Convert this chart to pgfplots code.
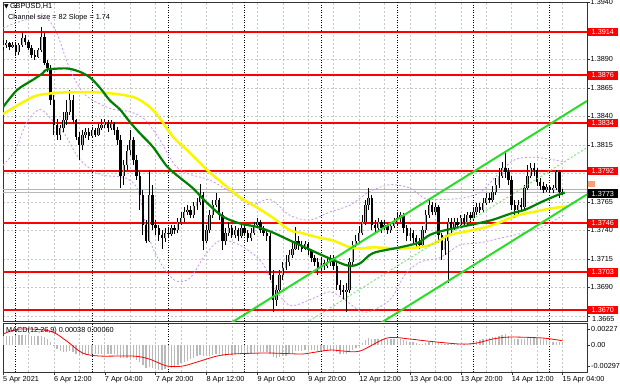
\documentclass[border=0pt]{standalone}
\usepackage{fontspec}
\setmainfont{Liberation Sans}
\newfontfamily\symfont{DejaVu Sans}
\usepackage{pgfplots}
\usepackage{pgfplotstable}
\pgfplotsset{compat=1.18}
\definecolor{mtred}{RGB}{255,0,0}
\definecolor{mtgreen}{RGB}{0,128,0}
\definecolor{mtyellow}{RGB}{250,245,0}
\definecolor{chan}{RGB}{40,220,40}
\definecolor{chanlight}{RGB}{120,225,120}
\definecolor{bband}{RGB}{200,150,235}
\definecolor{lvlorange}{RGB}{245,160,120}
\definecolor{histgray}{RGB}{185,185,185}
\definecolor{bullgray}{RGB}{170,170,170}

\pgfplotstableread{
i O H L C
0 1.3901 1.3907 1.3898 1.3903
1 1.3903 1.3907 1.3900 1.3904
2 1.3904 1.3905 1.3898 1.3901
3 1.3901 1.3905 1.3900 1.3903
4 1.3903 1.3905 1.3894 1.3896
5 1.3896 1.3904 1.3894 1.3903
6 1.3903 1.3913 1.3901 1.3909
7 1.3909 1.3911 1.3903 1.3905
8 1.3905 1.3907 1.3898 1.3900
9 1.3900 1.3903 1.3891 1.3894
10 1.3894 1.3898 1.3889 1.3892
11 1.3892 1.3900 1.3891 1.3898
12 1.3898 1.3918 1.3896 1.3910
13 1.3910 1.3913 1.3885 1.3887
14 1.3887 1.3889 1.3879 1.3882
15 1.3882 1.3885 1.3850 1.3854
16 1.3854 1.3859 1.3824 1.3832
17 1.3832 1.3838 1.3819 1.3824
18 1.3824 1.3832 1.3819 1.3830
19 1.3830 1.3844 1.3826 1.3837
20 1.3837 1.3854 1.3832 1.3844
21 1.3844 1.3863 1.3841 1.3854
22 1.3854 1.3859 1.3833 1.3837
23 1.3837 1.3838 1.3819 1.3822
24 1.3822 1.3826 1.3802 1.3815
25 1.3815 1.3828 1.3810 1.3824
26 1.3824 1.3830 1.3821 1.3826
27 1.3826 1.3830 1.3819 1.3823
28 1.3823 1.3831 1.3821 1.3828
29 1.3828 1.3830 1.3822 1.3824
30 1.3824 1.3833 1.3823 1.3830
31 1.3830 1.3838 1.3828 1.3832
32 1.3832 1.3838 1.3830 1.3835
33 1.3835 1.3837 1.3826 1.3830
34 1.3830 1.3837 1.3828 1.3833
35 1.3833 1.3835 1.3824 1.3828
36 1.3828 1.3831 1.3815 1.3819
37 1.3819 1.3824 1.3777 1.3788
38 1.3788 1.3802 1.3780 1.3797
39 1.3797 1.3815 1.3793 1.3810
40 1.3810 1.3828 1.3806 1.3819
41 1.3819 1.3822 1.3797 1.3802
42 1.3802 1.3806 1.3784 1.3788
43 1.3788 1.3793 1.3758 1.3771
44 1.3771 1.3775 1.3736 1.3745
45 1.3745 1.3749 1.3729 1.3731
46 1.3731 1.3793 1.3730 1.3771
47 1.3771 1.3780 1.3740 1.3745
48 1.3745 1.3749 1.3736 1.3742
49 1.3742 1.3745 1.3731 1.3736
50 1.3736 1.3740 1.3724 1.3733
51 1.3733 1.3742 1.3730 1.3738
52 1.3738 1.3742 1.3733 1.3737
53 1.3737 1.3745 1.3735 1.3742
54 1.3742 1.3745 1.3737 1.3740
55 1.3740 1.3751 1.3738 1.3747
56 1.3747 1.3756 1.3745 1.3751
57 1.3751 1.3760 1.3747 1.3756
58 1.3756 1.3762 1.3753 1.3758
59 1.3758 1.3761 1.3751 1.3753
60 1.3753 1.3765 1.3751 1.3761
61 1.3761 1.3768 1.3758 1.3765
62 1.3765 1.3781 1.3762 1.3771
63 1.3771 1.3774 1.3723 1.3731
64 1.3731 1.3745 1.3729 1.3740
65 1.3740 1.3758 1.3738 1.3753
66 1.3753 1.3767 1.3751 1.3762
67 1.3762 1.3773 1.3760 1.3767
68 1.3767 1.3768 1.3749 1.3753
69 1.3753 1.3756 1.3723 1.3731
70 1.3731 1.3742 1.3727 1.3738
71 1.3738 1.3747 1.3735 1.3742
72 1.3742 1.3745 1.3733 1.3736
73 1.3736 1.3744 1.3733 1.3740
74 1.3740 1.3742 1.3731 1.3735
75 1.3735 1.3745 1.3733 1.3742
76 1.3742 1.3745 1.3735 1.3738
77 1.3738 1.3740 1.3730 1.3733
78 1.3733 1.3742 1.3731 1.3738
79 1.3738 1.3747 1.3736 1.3745
80 1.3745 1.3751 1.3742 1.3747
81 1.3747 1.3749 1.3738 1.3740
82 1.3740 1.3744 1.3735 1.3738
83 1.3738 1.3740 1.3731 1.3735
84 1.3735 1.3738 1.3696 1.3701
85 1.3701 1.3705 1.3668 1.3679
86 1.3679 1.3692 1.3674 1.3688
87 1.3688 1.3705 1.3686 1.3701
88 1.3701 1.3712 1.3696 1.3707
89 1.3707 1.3718 1.3705 1.3712
90 1.3712 1.3723 1.3709 1.3718
91 1.3718 1.3731 1.3716 1.3724
92 1.3724 1.3743 1.3723 1.3731
93 1.3731 1.3735 1.3723 1.3727
94 1.3727 1.3731 1.3721 1.3724
95 1.3724 1.3731 1.3723 1.3728
96 1.3728 1.3730 1.3718 1.3723
97 1.3723 1.3724 1.3712 1.3716
98 1.3716 1.3718 1.3709 1.3712
99 1.3712 1.3716 1.3701 1.3707
100 1.3707 1.3716 1.3705 1.3711
101 1.3711 1.3714 1.3705 1.3709
102 1.3709 1.3716 1.3707 1.3712
103 1.3712 1.3718 1.3709 1.3716
104 1.3716 1.3718 1.3705 1.3709
105 1.3709 1.3712 1.3688 1.3692
106 1.3692 1.3696 1.3683 1.3688
107 1.3688 1.3692 1.3679 1.3686
108 1.3686 1.3694 1.3668 1.3688
109 1.3688 1.3716 1.3685 1.3712
110 1.3712 1.3731 1.3709 1.3727
111 1.3727 1.3736 1.3724 1.3731
112 1.3731 1.3744 1.3729 1.3738
113 1.3738 1.3753 1.3736 1.3747
114 1.3747 1.3767 1.3745 1.3762
115 1.3762 1.3777 1.3758 1.3768
116 1.3768 1.3771 1.3740 1.3745
117 1.3745 1.3749 1.3738 1.3742
118 1.3742 1.3751 1.3740 1.3747
119 1.3747 1.3749 1.3738 1.3742
120 1.3742 1.3749 1.3740 1.3745
121 1.3745 1.3747 1.3737 1.3740
122 1.3740 1.3747 1.3738 1.3744
123 1.3744 1.3751 1.3742 1.3747
124 1.3747 1.3755 1.3745 1.3751
125 1.3751 1.3756 1.3747 1.3753
126 1.3753 1.3755 1.3738 1.3742
127 1.3742 1.3745 1.3731 1.3735
128 1.3735 1.3742 1.3731 1.3738
129 1.3738 1.3740 1.3729 1.3733
130 1.3733 1.3736 1.3725 1.3730
131 1.3730 1.3733 1.3724 1.3727
132 1.3727 1.3744 1.3725 1.3740
133 1.3740 1.3758 1.3738 1.3753
134 1.3753 1.3768 1.3751 1.3762
135 1.3762 1.3765 1.3753 1.3756
136 1.3756 1.3764 1.3753 1.3760
137 1.3760 1.3762 1.3729 1.3736
138 1.3736 1.3738 1.3714 1.3723
139 1.3723 1.3735 1.3718 1.3731
140 1.3731 1.3751 1.3694 1.3747
141 1.3747 1.3751 1.3738 1.3742
142 1.3742 1.3751 1.3740 1.3747
143 1.3747 1.3751 1.3742 1.3745
144 1.3745 1.3753 1.3742 1.3751
145 1.3751 1.3754 1.3745 1.3747
146 1.3747 1.3756 1.3745 1.3753
147 1.3753 1.3756 1.3747 1.3751
148 1.3751 1.3760 1.3749 1.3756
149 1.3756 1.3764 1.3753 1.3760
150 1.3760 1.3764 1.3755 1.3758
151 1.3758 1.3768 1.3756 1.3764
152 1.3764 1.3773 1.3762 1.3768
153 1.3768 1.3773 1.3764 1.3767
154 1.3767 1.3779 1.3765 1.3774
155 1.3774 1.3786 1.3771 1.3780
156 1.3780 1.3795 1.3777 1.3788
157 1.3788 1.3800 1.3786 1.3795
158 1.3795 1.3808 1.3786 1.3791
159 1.3791 1.3795 1.3780 1.3784
160 1.3784 1.3788 1.3758 1.3762
161 1.3762 1.3767 1.3751 1.3758
162 1.3758 1.3767 1.3753 1.3762
163 1.3762 1.3768 1.3756 1.3760
164 1.3760 1.3780 1.3758 1.3777
165 1.3777 1.3797 1.3775 1.3788
166 1.3788 1.3799 1.3786 1.3795
167 1.3795 1.3799 1.3788 1.3793
168 1.3793 1.3795 1.3779 1.3782
169 1.3782 1.3786 1.3775 1.3779
170 1.3779 1.3782 1.3773 1.3775
171 1.3775 1.3781 1.3774 1.3778
172 1.3778 1.3780 1.3773 1.3775
173 1.3775 1.3780 1.3773 1.3777
174 1.3777 1.3793 1.3775 1.3791
175 1.3791 1.3793 1.3768 1.3774
176 1.3774 1.3776 1.3771 1.3773
}\candles

\begin{document}
\begin{tikzpicture}[font=\fontsize{7.3}{8.5}\selectfont]
\useasboundingbox (0,0) rectangle (620pt,388pt);
\fill[white] (0,0) rectangle (620pt,388pt);

\begin{axis}[at={(3pt,67pt)}, anchor=south west, scale only axis,
  width=584pt, height=319pt,
  xmin=0, xmax=183.7, ymin=1.36604, ymax=1.39403,
  clip mode=individual, scaled y ticks=false, scaled x ticks=false,
  axis line style={black!80, line width=0.8pt},
  xtick={0,8,...,176}, xticklabels={}, xtick style={draw=none},
  xmajorgrids, ymajorgrids,
  major grid style={gray!45, dash pattern=on 2pt off 2pt, line width=0.5pt},
  extra x ticks={4,28,52,76,100,124,148,172}, extra x tick labels={},
  extra x tick style={xmajorgrids=true, major tick length=0pt,
    major grid style={black, line width=0.7pt, dash pattern=on 1pt off 1.5pt}},
  ytick={1.3665,1.3690,1.3715,1.3740,1.3765,1.3790,1.3815,1.3840,1.3865,1.3890,1.3915,1.3940},
  yticklabels={{},1.3690,1.3715,1.3740,1.3765,{},1.3815,\raisebox{1.5pt}{1.3840},1.3865,1.3890,{},1.3940},
  ytick pos=right, yticklabel pos=right, tick align=outside, major tick length=2.5pt,
  ytick style={black!80},
  yticklabel style={anchor=west, inner sep=1pt, font=\fontsize{7.3}{8.5}\selectfont},
]
% horizontal levels
\addplot[mtred, line width=2pt, forget plot] coordinates {(0,1.3914) (183.7,1.3914)};
\addplot[mtred, line width=2pt, forget plot] coordinates {(0,1.3876) (183.7,1.3876)};
\addplot[mtred, line width=2pt, forget plot] coordinates {(0,1.3834) (183.7,1.3834)};
\addplot[mtred, line width=2pt, forget plot] coordinates {(0,1.3792) (183.7,1.3792)};
\addplot[mtred, line width=2pt, forget plot] coordinates {(0,1.3746) (183.7,1.3746)};
\addplot[mtred, line width=2pt, forget plot] coordinates {(0,1.3703) (183.7,1.3703)};
\addplot[mtred, line width=2pt, forget plot] coordinates {(0,1.3670) (183.7,1.3670)};
\addplot[lvlorange, line width=0.8pt, forget plot] coordinates {(0,1.3776) (183.7,1.3776)};
\addplot[gray!55, line width=0.7pt, forget plot] coordinates {(0,1.3773) (183.7,1.3773)};
% bands
\addplot[bband, dash pattern=on 2pt off 2pt, line width=0.8pt, smooth, forget plot] coordinates {
(0,1.39175) (11.6,1.3928) (16.4,1.3916) (21.1,1.3881) (25.8,1.3859) (33.6,1.3847) (39.9,1.3844) (44.7,1.3837) (49.4,1.3819) (54.1,1.3797) (58.8,1.3789) (65.1,1.3784) (73,1.3771) (77.7,1.3762) (84,1.3767) (90.3,1.3753) (96.5,1.3749) (102.8,1.3756) (109.1,1.3762) (115.4,1.3774) (121.7,1.3780) (128,1.3777) (132.7,1.3768) (137.4,1.3767) (143.7,1.3768) (150,1.3773) (156.3,1.3791) (161,1.3802) (167.3,1.3804) (176.7,1.3800)};
\addplot[bband, dash pattern=on 2pt off 2pt, line width=0.8pt, smooth, forget plot] coordinates {
(0,1.3797) (3.8,1.3810) (7.5,1.3835) (11.6,1.3846) (15.4,1.3837) (19.5,1.3824) (24.2,1.3802) (30.5,1.3789) (38.4,1.3786) (42.5,1.3775) (45.6,1.3736) (49.4,1.3712) (54.1,1.3696) (58.8,1.3698) (63.5,1.3718) (68.2,1.3731) (74.5,1.3727) (81.4,1.3712) (85.5,1.3689) (90.3,1.3674) (96.5,1.3679) (102.8,1.3686) (107.5,1.3679) (113.8,1.3668) (121.7,1.3679) (126.4,1.3701) (131.1,1.3712) (137.4,1.3716) (143.7,1.3727) (150,1.3729) (156.3,1.3733) (162.6,1.3737) (168.9,1.3742) (173.6,1.3749) (176.7,1.3754)};
% candles: wicks
\addplot[draw=none, mark=none, forget plot,
  error bars/.cd, y dir=plus, y explicit, error mark=none,
  error bar style={draw=black, line width=0.8pt}]
  table[x=i, y=L, y error expr={\thisrow{H}-\thisrow{L}}] {\candles};
% bodies
\addplot[draw=none, mark=none, forget plot,
  error bars/.cd, y dir=plus, y explicit, error mark=none,
  error bar style={draw=black, line width=2.4pt}]
  table[x=i, y expr={min(\thisrow{O},\thisrow{C})}, y error expr={abs(\thisrow{C}-\thisrow{O})}] {\candles};
\addplot[draw=none, mark=none, forget plot,
  restrict expr to domain={\thisrow{C}-\thisrow{O}}{0.00005:1},
  error bars/.cd, y dir=plus, y explicit, error mark=none,
  error bar style={draw=bullgray, line width=0.9pt}]
  table[x=i, y=O, y error expr={\thisrow{C}-\thisrow{O}}] {\candles};
% moving averages
\addplot[mtyellow, line width=2.5pt, smooth, forget plot] coordinates {
(0,1.3842) (9.4,1.3857) (14.8,1.3860) (20.1,1.3861) (30.5,1.3861) (40.9,1.3857) (46.2,1.3848) (49.4,1.3838) (53.5,1.3822) (58.8,1.3808) (64.2,1.3793) (69.2,1.3781) (74.5,1.3769) (79.9,1.3760) (84.9,1.3751) (90.3,1.3740) (93.4,1.3738) (98.7,1.3734) (103.8,1.3731) (109.1,1.3725) (112.3,1.3724) (116.4,1.3725) (124.8,1.3724) (130.5,1.3725) (134.3,1.3727) (137.4,1.3731) (140.6,1.3736) (150.9,1.3742) (156.3,1.3747) (161.6,1.3753) (166.7,1.3756) (172,1.3759) (177.4,1.3761)};
\addplot[mtgreen, line width=2.2pt, smooth, forget plot] coordinates {
(0,1.3848) (4.4,1.3863) (9.4,1.3872) (12.6,1.3878) (13.8,1.3881) (20.1,1.3882) (24.2,1.3879) (27.4,1.3874) (30.5,1.3865) (33.6,1.3854) (36.8,1.3846) (39.9,1.3835) (43.1,1.3825) (47.2,1.3813) (51.6,1.3796) (55.7,1.3786) (59.7,1.3777) (64.2,1.3764) (69.2,1.3752) (74.5,1.3746) (79.9,1.3743) (84.9,1.3738) (90.3,1.3731) (95,1.3725) (101.3,1.3717) (108.5,1.3709) (112.3,1.3711) (116.4,1.3720) (124.8,1.3725) (130.5,1.3729) (134.3,1.3736) (139,1.3740) (147.5,1.3745) (153.8,1.3749) (160.1,1.3755) (164.2,1.3758) (169.5,1.3765) (174.5,1.3771) (176.7,1.3773)};
% regression channel
\addplot[chan, line width=2pt, forget plot] coordinates {(60,1.36383) (183.7,1.38535)};
\addplot[chanlight, line width=0.9pt, dash pattern=on 2pt off 2pt, forget plot] coordinates {(90,1.36495) (183.7,1.38125)};
\addplot[chan, line width=2pt, forget plot] coordinates {(100,1.36259) (183.7,1.37715)};
% label anchors
\coordinate (a1914) at (axis cs:183.7,1.3914);
\coordinate (a1876) at (axis cs:183.7,1.3876);
\coordinate (a1834) at (axis cs:183.7,1.3834);
\coordinate (a1792) at (axis cs:183.7,1.3792);
\coordinate (a1776) at (axis cs:183.7,1.3776);
\coordinate (a1773) at (axis cs:183.7,1.3773);
\coordinate (a1746) at (axis cs:183.7,1.3746);
\coordinate (a1703) at (axis cs:183.7,1.3703);
\coordinate (a1670) at (axis cs:183.7,1.3670);
\end{axis}

\begin{axis}[at={(3pt,16pt)}, anchor=south west, scale only axis,
  width=584pt, height=49pt,
  xmin=0, xmax=183.7, ymin=-0.00382, ymax=0.00312,
  clip mode=individual, scaled y ticks=false, scaled x ticks=false,
  axis line style={black!80, line width=0.8pt},
  xtick={0,16,...,176},
  xticklabels={5 Apr 2021,6 Apr 12:00,7 Apr 04:00,7 Apr 20:00,8 Apr 12:00,9 Apr 04:00,9 Apr 20:00,12 Apr 12:00,13 Apr 04:00,13 Apr 20:00,14 Apr 12:00,15 Apr 04:00},
  xtick pos=left, tick align=outside, major tick length=3pt, minor tick length=0pt,
  xtick style={black!80},
  xticklabel style={anchor=north west, inner sep=1pt, xshift=-1pt, font=\fontsize{7.3}{8.5}\selectfont},
  minor x tick num=1, xmajorgrids, xminorgrids,
  major grid style={gray!45, dash pattern=on 2pt off 2pt, line width=0.5pt},
  minor grid style={gray!45, dash pattern=on 2pt off 2pt, line width=0.5pt},
  extra x ticks={4,28,52,76,100,124,148,172}, extra x tick labels={},
  extra x tick style={xmajorgrids=true, major tick length=0pt,
    major grid style={black, line width=0.7pt, dash pattern=on 1pt off 1.5pt}},
  ytick={-0.00297,0,0.00227}, yticklabels={-0.00297,0.00,0.00227},
  ytick pos=right, yticklabel pos=right, ytick style={black!80},
  yticklabel style={anchor=west, inner sep=1pt, font=\fontsize{7.3}{8.5}\selectfont},
]
\addplot[ycomb, histgray, line width=1.3pt, forget plot] coordinates {
(0,0.0013) (1,0.0013) (2,0.0013) (3,0.0013) (4,0.0014) (5,0.0014) (6,0.0014) (7,0.0014) (8,0.0014) (9,0.0013)
(10,0.0013) (11,0.0013) (12,0.0013) (13,0.0012) (14,0.0009) (15,0.0004) (16,-0.0002) (17,-0.0006) (18,-0.0009) (19,-0.0010)
(20,-0.0010) (21,-0.0009) (22,-0.0010) (23,-0.0012) (24,-0.0014) (25,-0.0014) (26,-0.0014) (27,-0.0014) (28,-0.0013) (29,-0.0013)
(30,-0.0013) (31,-0.0012) (32,-0.0012) (33,-0.0012) (34,-0.0012) (35,-0.0013) (36,-0.0014) (37,-0.0018) (38,-0.0019) (39,-0.0019)
(40,-0.0018) (41,-0.0019) (42,-0.0021) (43,-0.0024) (44,-0.0028) (45,-0.0032) (46,-0.0031) (47,-0.0033) (48,-0.0034) (49,-0.0035)
(50,-0.0035) (51,-0.0034) (52,-0.0033) (53,-0.0032) (54,-0.0030) (55,-0.0028) (56,-0.0026) (57,-0.0024) (58,-0.0022) (59,-0.0020)
(60,-0.0018) (61,-0.0016) (62,-0.0014) (63,-0.0016) (64,-0.0016) (65,-0.0015) (66,-0.0014) (67,-0.0013) (68,-0.0013) (69,-0.0015)
(70,-0.0015) (71,-0.0014) (72,-0.0014) (73,-0.0013) (74,-0.0013) (75,-0.0012) (76,-0.0012) (77,-0.0012) (78,-0.0012) (79,-0.0011)
(80,-0.0010) (81,-0.0010) (82,-0.0010) (83,-0.0010) (84,-0.0013) (85,-0.0017) (86,-0.0018) (87,-0.0017) (88,-0.0016) (89,-0.0015)
(90,-0.0013) (91,-0.0011) (92,-0.0009) (93,-0.0008) (94,-0.0008) (95,-0.0007) (96,-0.0007) (97,-0.0007) (98,-0.0007) (99,-0.0008)
(100,-0.0008) (101,-0.0008) (102,-0.0008) (103,-0.0008) (104,-0.0008) (105,-0.0010) (106,-0.0012) (107,-0.0013) (108,-0.0013) (109,-0.0010)
(110,-0.0007) (111,-0.0004) (112,-0.0001) (113,0.0003) (114,0.0007) (115,0.0010) (116,0.0009) (117,0.0009) (118,0.0009) (119,0.0009)
(120,0.0009) (121,0.0008) (122,0.0008) (123,0.0008) (124,0.0008) (125,0.0008) (126,0.0007) (127,0.0006) (128,0.0005) (129,0.0004)
(130,0.0003) (131,0.0002) (132,0.0002) (133,0.0003) (134,0.0004) (135,0.0005) (136,0.0005) (137,0.0004) (138,0.0002) (139,0.0002)
(140,0.0002) (141,0.0002) (142,0.0002) (143,0.0002) (144,0.0002) (145,0.0002) (146,0.0002) (147,0.0003) (148,0.0004) (149,0.0006)
(150,0.0007) (151,0.0008) (152,0.0009) (153,0.0010) (154,0.0011) (155,0.0012) (156,0.0013) (157,0.0014) (158,0.0015) (159,0.0013)
(160,0.0011) (161,0.0009) (162,0.0008) (163,0.0008) (164,0.0009) (165,0.0010) (166,0.0011) (167,0.0011) (168,0.0010) (169,0.0009)
(170,0.0008) (171,0.0007) (172,0.0006) (173,0.0005) (174,0.0005) (175,0.0004) (176,0.00038)};
\addplot[red, line width=0.8pt, smooth, forget plot] coordinates {
(0,0.00156) (5.3,0.00227) (14.8,0.00198) (20,0.00057) (25,-0.00113) (30.5,-0.00156) (41,-0.00156) (46,-0.00198) (51.5,-0.00297) (56.6,-0.00297) (62,-0.00227) (67.3,-0.00156) (72.3,-0.00127) (83,-0.00113) (93.4,-0.00127) (96.5,-0.00113) (102.8,-0.00071) (107,-0.00085) (112.3,-0.00085) (120.8,0.00099) (128,0.00085) (133.3,0.00057) (143.7,0.00014) (149,0.00028) (154,0.00085) (159.4,0.00113) (169.8,0.00099) (176,0.00060)};
\end{axis}

% price tags on the right scale
\foreach \c/\t in {a1914/1.3914,a1876/1.3876,a1834/1.3834,a1792/1.3792,a1746/1.3746,a1703/1.3703,a1670/1.3670}
  \node[fill=mtred, text=white, anchor=west, inner xsep=3.5pt, inner ysep=0.5pt, minimum height=8.5pt, xshift=1pt] at (\c) {\t};
\node[fill=lvlorange, text=white, anchor=south west, inner xsep=3.5pt, inner ysep=0.5pt, minimum height=6pt, xshift=1pt, yshift=2.5pt] at (a1776) {\raisebox{0pt}[3pt][0pt]{}};
\node[fill=black, text=white, anchor=west, inner xsep=3.5pt, inner ysep=0.5pt, minimum height=8.5pt, xshift=1pt, yshift=-1pt] at (a1773) {1.3773};
% lowest scale value, just under its neighbouring tag
\node[anchor=west, inner sep=0pt] at (592pt,68.8pt) {1.3665};

% texts
\node[anchor=west, inner sep=0pt] at (4pt,382pt) {{\symfont\fontsize{6}{7}\selectfont ▼}\,GBPUSD,H1};
\node[anchor=west, inner sep=0pt] at (8pt,370pt) {Channel size = 82 Slope = 1.74};
\node[anchor=west, inner sep=0pt] at (6pt,57.5pt) {MACD(12,26,9) 0.00038 0.00060};
\end{tikzpicture}
\end{document}
